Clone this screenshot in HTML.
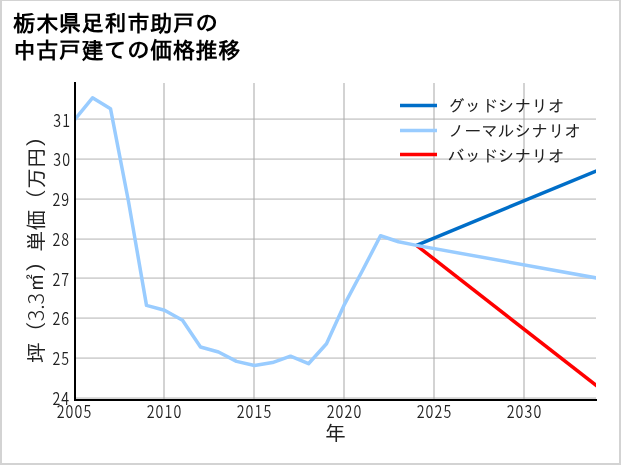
<!DOCTYPE html>
<html lang="ja"><head><meta charset="utf-8"><title>栃木県足利市助戸の中古戸建ての価格推移</title>
<style>
html,body{margin:0;padding:0;background:#fff;}
body{width:621px;height:465px;overflow:hidden;position:relative;}
#frame{position:absolute;left:0;top:0;width:621px;height:465px;box-sizing:border-box;border:2px solid #d3d3d3;border-top-width:1px;}
svg{position:absolute;left:0;top:0;will-change:transform;}
text{font-family:"IPAGothic","Liberation Sans",sans-serif;fill:#222;}
.title{font-weight:bold;font-size:22.2px;letter-spacing:0.58px;fill:#000;}
.tick text{font-family:"Noto Sans CJK JP","Liberation Sans",sans-serif;font-weight:350;font-size:17.2px;letter-spacing:1.3px;}
.num{font-family:"Noto Sans CJK JP","Liberation Sans",sans-serif;font-weight:300;font-size:21.3px;}
.lab{font-size:20.85px;}
.leg text{font-size:16.7px;}
.grid line{stroke:#ababab;stroke-opacity:0.52;stroke-width:2;}
.grid line.h{stroke-width:1.8;}
.ser{fill:none;stroke-width:3.5;stroke-linejoin:round;}
</style></head><body>
<div id="frame"></div>
<svg width="621" height="465" viewBox="0 0 621 465">
<defs><clipPath id="plot"><rect x="74.0" y="82" width="522.0" height="317.0"/></clipPath></defs>
<text class="title" x="13.3" y="30.9">栃木県足利市助戸の</text>
<text class="title" x="13.3" y="58.1">中古戸建ての価格推移</text>
<g class="grid">
<line x1="164.0" y1="83" x2="164.0" y2="399.0"/>
<line x1="254.0" y1="83" x2="254.0" y2="399.0"/>
<line x1="344.0" y1="83" x2="344.0" y2="399.0"/>
<line x1="434.0" y1="83" x2="434.0" y2="399.0"/>
<line x1="524.0" y1="83" x2="524.0" y2="399.0"/>
<line x1="74.0" y1="398.1" x2="596.0" y2="398.1" class="h"/>
<line x1="74.0" y1="358.1" x2="596.0" y2="358.1" class="h"/>
<line x1="74.0" y1="318.1" x2="596.0" y2="318.1" class="h"/>
<line x1="74.0" y1="278.1" x2="596.0" y2="278.1" class="h"/>
<line x1="74.0" y1="239.1" x2="596.0" y2="239.1" class="h"/>
<line x1="74.0" y1="199.1" x2="596.0" y2="199.1" class="h"/>
<line x1="74.0" y1="159.1" x2="596.0" y2="159.1" class="h"/>
<line x1="74.0" y1="119.1" x2="596.0" y2="119.1" class="h"/>
</g>
<g clip-path="url(#plot)">
<polyline class="ser" stroke="#ff0000" points="416.50,245.35 601.90,389.85"/>
<polyline class="ser" stroke="#006ec8" points="416.50,245.35 601.90,168.58"/>
<polyline class="ser" stroke="#99ccff" points="74.50,119.80 92.50,97.80 110.50,108.64 128.50,201.50 146.50,305.33 164.50,310.31 182.50,320.28 200.50,346.98 218.50,351.97 236.50,361.33 254.50,365.52 272.50,362.53 290.50,356.15 308.50,363.72 326.50,343.79 344.50,304.34 362.50,270.46 380.50,235.78 398.50,241.76 416.50,245.35 601.90,278.93"/>
</g>
<line x1="75" y1="82" x2="75" y2="401" stroke="#000" stroke-width="2"/>
<line x1="74" y1="400" x2="597.0" y2="400" stroke="#000" stroke-width="2"/>
<g class="tick">
<text transform="translate(74.5,418) scale(0.83,1)" text-anchor="middle">2005</text>
<text transform="translate(164.5,418) scale(0.83,1)" text-anchor="middle">2010</text>
<text transform="translate(254.5,418) scale(0.83,1)" text-anchor="middle">2015</text>
<text transform="translate(344.5,418) scale(0.83,1)" text-anchor="middle">2020</text>
<text transform="translate(434.5,418) scale(0.83,1)" text-anchor="middle">2025</text>
<text transform="translate(524.5,418) scale(0.83,1)" text-anchor="middle">2030</text>
<text transform="translate(70.2,404.7) scale(0.83,1)" text-anchor="end">24</text>
<text transform="translate(70.2,364.7) scale(0.83,1)" text-anchor="end">25</text>
<text transform="translate(70.2,324.7) scale(0.83,1)" text-anchor="end">26</text>
<text transform="translate(70.2,285.6) scale(0.83,1)" text-anchor="end">27</text>
<text transform="translate(70.2,245.7) scale(0.83,1)" text-anchor="end">28</text>
<text transform="translate(70.2,205.7) scale(0.83,1)" text-anchor="end">29</text>
<text transform="translate(71.1,165.7) scale(0.83,1)" text-anchor="end">30</text>
<text transform="translate(71.1,126.6) scale(0.83,1)" text-anchor="end">31</text>
</g>
<text class="lab" x="335.2" y="440.5" text-anchor="middle">年</text>
<text class="lab" transform="translate(43.5,362.9) rotate(-90)">坪（<tspan class="num">3.3</tspan>㎡）単価（万円）</text>
<g class="leg">
<line x1="400" y1="105.5" x2="437" y2="105.5" stroke="#006ec8" stroke-width="3.3"/>
<line x1="400" y1="130.5" x2="437" y2="130.5" stroke="#99ccff" stroke-width="3.3"/>
<line x1="400" y1="154.5" x2="437" y2="154.5" stroke="#ff0000" stroke-width="3.3"/>
<text x="447.8" y="112.2">グッドシナリオ</text>
<text x="447.8" y="137.2">ノーマルシナリオ</text>
<text x="447.8" y="161.5">バッドシナリオ</text>
</g>
</svg>
</body></html>
